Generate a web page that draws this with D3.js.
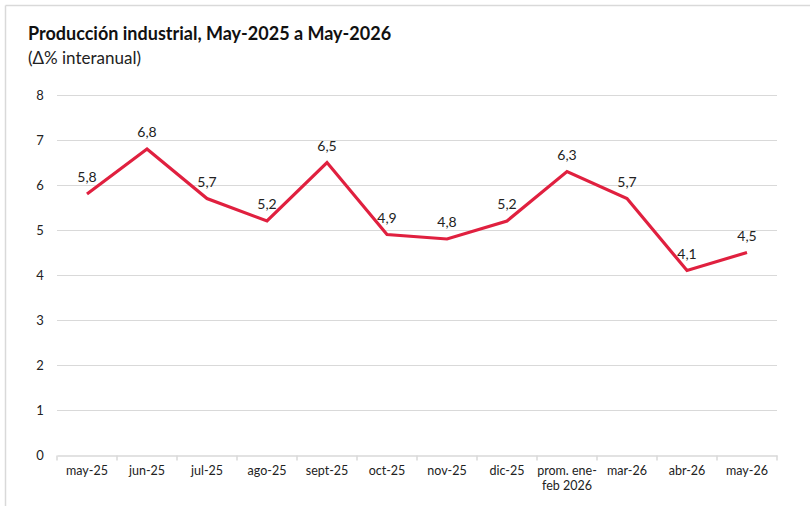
<!DOCTYPE html>
<html><head><meta charset="utf-8">
<script src="https://cdn.jsdelivr.net/npm/d3@7"></script>
<style>body{margin:0;background:#fff}svg{display:block}</style>
</head><body>
<svg id="c" width="810" height="506"></svg>
<script>
const categories = ["may-25","jun-25","jul-25","ago-25","sept-25","oct-25","nov-25","dic-25","prom. ene-\nfeb 2026","mar-26","abr-26","may-26"];
const values = [5.8,6.8,5.7,5.2,6.5,4.9,4.8,5.2,6.3,5.7,4.1,4.5];
const yTicks = [0,1,2,3,4,5,6,7,8];
const title = "Producción industrial, May-2025 a May-2026";
const subtitle = "(Δ% interanual)";

const font = "Lato, 'Open Sans', sans-serif";
const svg = d3.select("#c");
const W = 810, H = 506;
const m = {left:57, right:33, top:95, bottom:51};

// frame
svg.append("line").attr("x1",5.5).attr("x2",W).attr("y1",5.5).attr("y2",5.5).attr("stroke","#d9d9d9").attr("stroke-width",1.5);
svg.append("line").attr("x1",5.5).attr("x2",5.5).attr("y1",5.5).attr("y2",H).attr("stroke","#d9d9d9").attr("stroke-width",1.5);

svg.append("text").attr("x",28).attr("y",40).text(title)
  .attr("font-family",font).attr("font-weight","bold").attr("font-size",18).attr("fill","#111");
svg.append("text").attr("x",28).attr("y",64).text(subtitle)
  .attr("font-family",font).attr("font-size",17).attr("fill","#222");

const x = d3.scaleBand().domain(categories).range([m.left, W-m.right]);
const y = d3.scaleLinear().domain([0,8]).range([H-m.bottom, m.top]);

// grid
svg.append("g").selectAll("line").data(yTicks.filter(d=>d>0)).join("line")
  .attr("x1",m.left).attr("x2",W-m.right)
  .attr("y1",d=>Math.round(y(d))+0.5).attr("y2",d=>Math.round(y(d))+0.5)
  .attr("stroke","#d9d9d9").attr("stroke-width",1);

// y labels
svg.append("g").selectAll("text").data(yTicks).join("text")
  .attr("x",40).attr("y",d=>y(d)).attr("dy","0.35em").attr("text-anchor","middle")
  .attr("font-family",font).attr("font-size",13).attr("fill","#222").text(d=>d);

// x axis
const xAxis = d3.axisBottom(x).tickSize(0).tickFormat("");
const gx = svg.append("g").attr("transform",`translate(0,${Math.round(y(0))+0.5})`).call(xAxis);
gx.select(".domain").attr("stroke","#d9d9d9").attr("stroke-width",1.5);
const edges = categories.map(c=>x(c)).concat([x(categories[categories.length-1])+x.bandwidth()]);
gx.selectAll(".edge").data(edges).join("line").attr("class","edge")
  .attr("x1",d=>d).attr("x2",d=>d).attr("y1",0).attr("y2",5).attr("stroke","#d9d9d9").attr("stroke-width",1.5);

const lab = svg.append("g").selectAll("text").data(categories).join("text")
  .attr("x",d=>x(d)+x.bandwidth()/2).attr("y",y(0)+20).attr("text-anchor","middle")
  .attr("font-family",font).attr("font-size",12.5).attr("fill","#222");
lab.each(function(d){
  const t = d3.select(this);
  d.split("\n").forEach((s,i)=>t.append("tspan").attr("x",x(d)+x.bandwidth()/2).attr("dy",i?15:0).text(s));
});

// line
const line = d3.line().x((d,i)=>x(categories[i])+x.bandwidth()/2).y(d=>y(d));
svg.append("path").datum(values).attr("d",line).attr("fill","none")
  .attr("stroke","#E0203F").attr("stroke-width",3.2).attr("stroke-linejoin","miter");

// data labels
svg.append("g").selectAll("text").data(values).join("text")
  .attr("x",(d,i)=>x(categories[i])+x.bandwidth()/2).attr("y",d=>y(d)-12)
  .attr("text-anchor","middle").attr("font-family",font).attr("font-size",14).attr("fill","#222")
  .text(d=>d3.format(".1f")(d).replace(".",","));
</script>
</body></html>
